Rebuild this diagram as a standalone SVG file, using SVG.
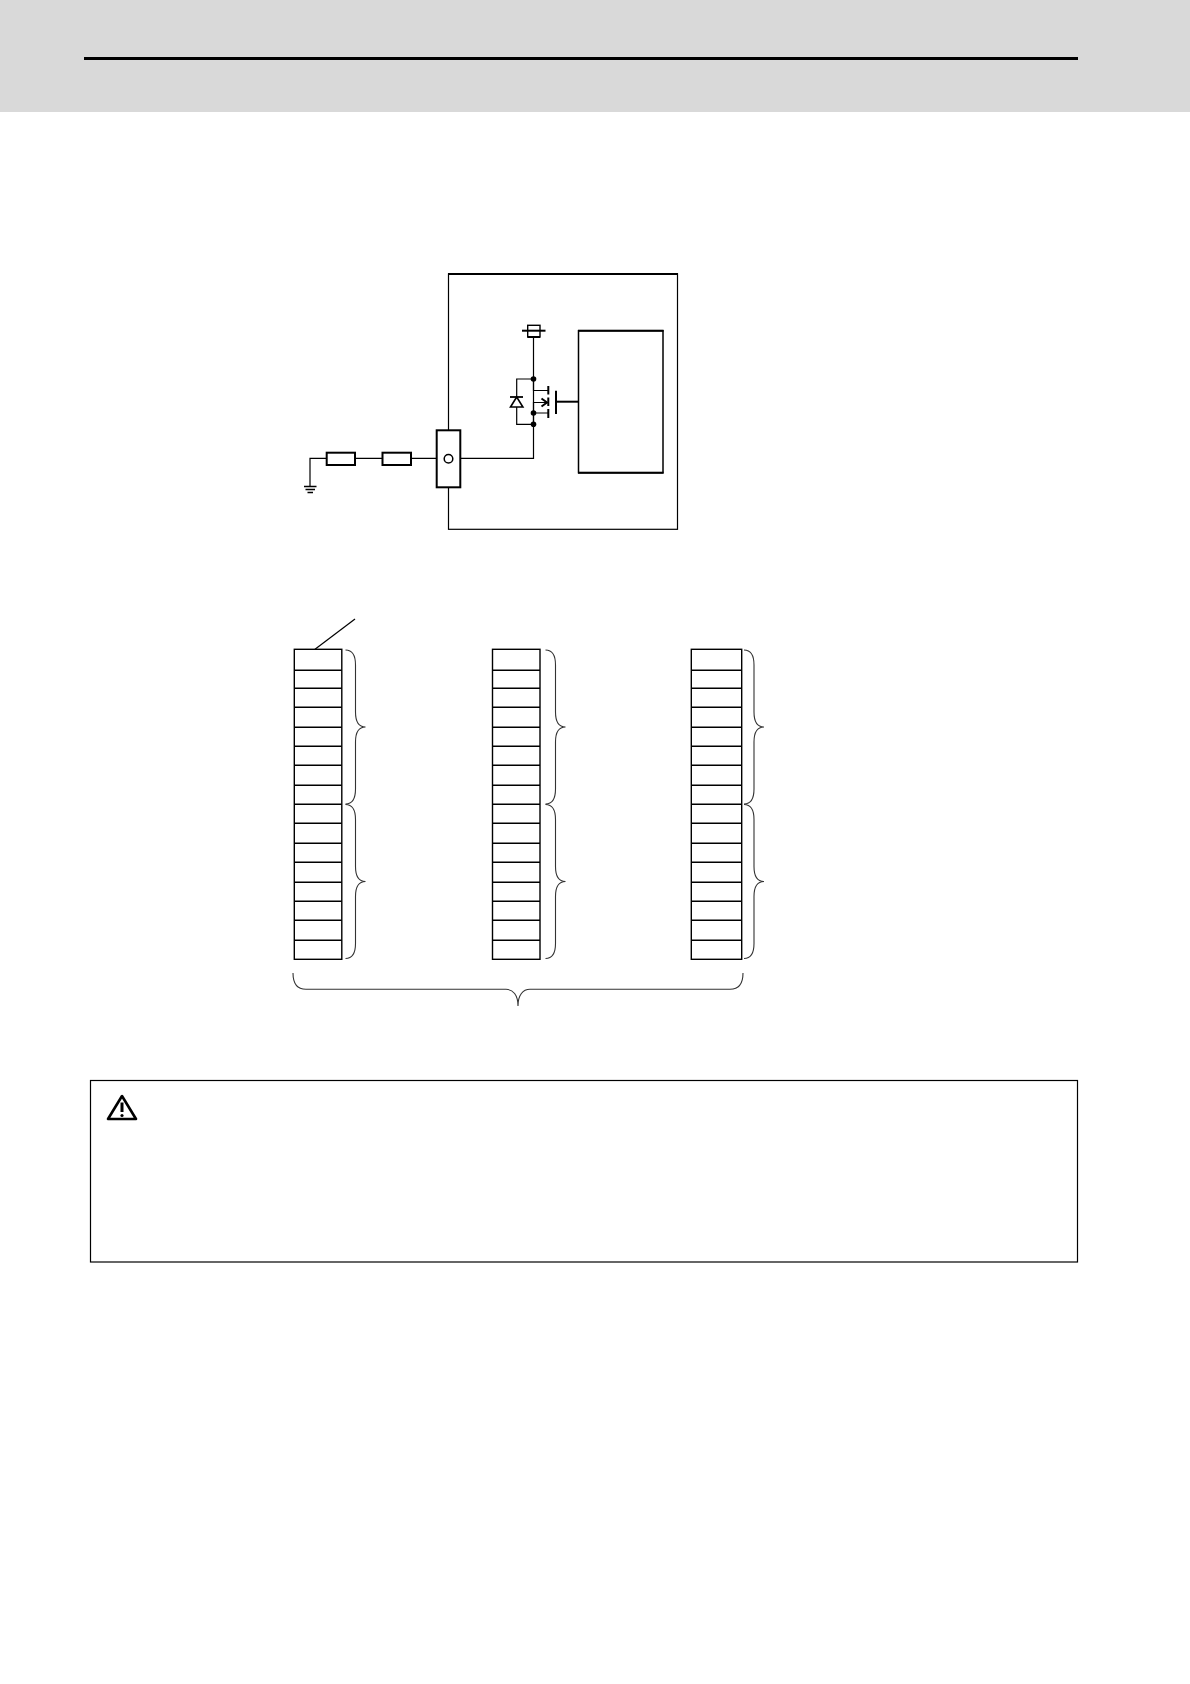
<svg xmlns="http://www.w3.org/2000/svg" xmlns:xlink="http://www.w3.org/1999/xlink" width="1190" height="1684" viewBox="0 0 1190 1684">
<style>
.b{fill:#fff;stroke:#000;stroke-width:1.4}
.t{fill:#fff;stroke:#000;stroke-width:2}
.w{fill:none;stroke:#000;stroke-width:1.2}
.r{fill:none;stroke:#000;stroke-width:1.4}
.br{fill:none;stroke:#333;stroke-width:1.1}
.d{fill:#000}
</style>
<defs>
<g id="stack">
<rect class="b" x="0" y="0" width="47.5" height="310"/>
<path class="r" d="M0 21H47.5M0 39H47.5M0 58H47.5M0 78H47.5M0 97H47.5M0 116H47.5M0 136H47.5M0 155H47.5M0 174H47.5M0 194H47.5M0 213H47.5M0 233H47.5M0 252H47.5M0 271H47.5M0 291H47.5"/>
</g>
<path id="brace1" class="br" d="M0 0C7 0 10 5 10 15V62C10 72 13 77 20 77C13 77 10 82 10 92V139C10 149 7 154 0 154"/>
</defs>
<rect id="header" x="0" y="0" width="1190" height="112" fill="#d9d9d9"/>
<path id="header-rule" d="M84 58.5H1078" stroke="#000" stroke-width="3" fill="none"/>
<g id="unit-box"><rect x="448.5" y="274" width="229" height="255.3" class="w"/><path d="M448 274H678" stroke="#000" stroke-width="2" fill="none"/></g>
<g id="control-block"><rect x="578.5" y="330.7" width="84.5" height="142" fill="#fff" stroke="#000" stroke-width="1.5"/><path d="M578 330.7H663.5M578 472.7H663.5" stroke="#000" stroke-width="2" fill="none"/></g>
<g id="connectors">
<path class="w" d="M310 486V458.3H326.7M355 458.3H382.5M411 458.3H436.7M460.3 458.3H533.5V337"/>
<path class="w" d="M533.5 379H516.7V424.3H533.5M533.5 379V390.5H548M533.5 424.3V402.5H548M533.5 413H548"/>
<path d="M556 401.7H578.5" stroke="#000" stroke-width="2" fill="none"/>
<path class="w" d="M315 649.3L355 619"/>
</g>
<g id="resistor-1"><rect x="326.7" y="452.7" width="28.3" height="12.3" class="t"/></g>
<g id="resistor-2"><rect x="382.5" y="452.7" width="28.5" height="12.3" class="t"/></g>
<g id="ground"><path d="M304 486.5H316.5M305.5 489.5H315M307.5 492.5H313" stroke="#000" stroke-width="1.7" fill="none"/></g>
<g id="terminal">
<rect x="436.7" y="430.3" width="23.6" height="57" class="t"/>
<circle cx="448.5" cy="458.7" r="4.3" fill="#fff" stroke="#000" stroke-width="1.5"/>
</g>
<g id="supply">
<rect x="527.7" y="325.3" width="12.3" height="11.7" class="b"/>
<path d="M522 330.7H545.5" stroke="#000" stroke-width="2" fill="none"/>
<path d="M527.7 337H540" stroke="#000" stroke-width="2" fill="none"/>
</g>
<g id="diode">
<path d="M516.7 397L510.5 407H522.9Z" fill="#fff" stroke="#000" stroke-width="1.6"/>
<path d="M510 397H523" stroke="#000" stroke-width="1.8" fill="none"/>
</g>
<g id="mosfet">
<path d="M548.3 386V394.5M548.3 397.5V406M548.3 409V418M556 390.7V414" stroke="#000" stroke-width="2" fill="none"/>
<path d="M541.5 398.5L547 402.5L541.5 406.5" stroke="#000" stroke-width="2" fill="none"/>
<circle class="d" cx="533.5" cy="379" r="2.8"/>
<circle class="d" cx="533.5" cy="413" r="2.8"/>
<circle class="d" cx="533.5" cy="424.3" r="2.8"/>
</g>
<g id="stack-1"><use xlink:href="#stack" href="#stack" x="294.3" y="649.3"/></g>
<g id="stack-2"><use xlink:href="#stack" href="#stack" x="492.5" y="649.3"/></g>
<g id="stack-3">
<rect class="b" x="691.3" y="649.3" width="50.4" height="310"/>
<path class="r" transform="translate(691.3 649.3)" d="M0 21H50.4M0 39H50.4M0 58H50.4M0 78H50.4M0 97H50.4M0 116H50.4M0 136H50.4M0 155H50.4M0 174H50.4M0 194H50.4M0 213H50.4M0 233H50.4M0 252H50.4M0 271H50.4M0 291H50.4"/>
</g>
<g id="braces">
<use xlink:href="#brace1" href="#brace1" x="345.5" y="650"/>
<use xlink:href="#brace1" href="#brace1" x="345.5" y="804.5"/>
<use xlink:href="#brace1" href="#brace1" x="545.5" y="650"/>
<use xlink:href="#brace1" href="#brace1" x="545.5" y="804.5"/>
<use xlink:href="#brace1" href="#brace1" x="744" y="650"/>
<use xlink:href="#brace1" href="#brace1" x="744" y="804.5"/>
<path class="br" d="M293 973C293 984 297 989.3 306 989.3H506C513 989.3 518 995 518 1006C518 995 523 989.3 530 989.3H730C739 989.3 743 984 743 973"/>
</g>
<g id="caution-box">
<rect x="90.5" y="1080.5" width="987" height="181.5" fill="#fff" stroke="#000" stroke-width="1.2"/>
<path d="M122 1096L108 1119H136Z" fill="#fff" stroke="#000" stroke-width="2.6" stroke-linejoin="round"/>
<path d="M122 1102.5V1112" stroke="#000" stroke-width="3" fill="none"/>
<circle class="d" cx="122" cy="1115.5" r="1.6"/>
</g>
</svg>
